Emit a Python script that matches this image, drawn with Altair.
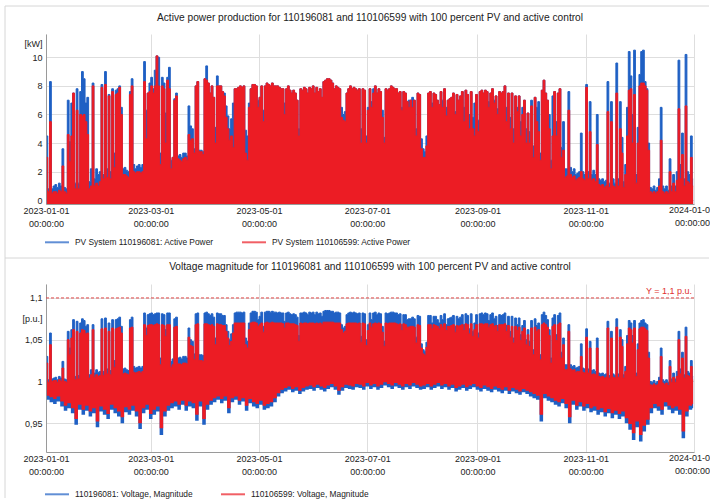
import altair as alt
import pandas as pd

# ---------------- data ----------------
# daily peak active power [kW], 2023-01-01 ... 2023-12-31
power_110196081 = [
    4.5, 0.8, 8.3, 0.8, 1.0, 1.1, 0.9, 1.2, 1.0, 3.6,
    0.9, 0.8, 7.0, 4.1, 6.8, 7.5, 1.2, 7.8, 1.2, 7.6,
    9.0, 8.5, 6.8, 7.2, 1.3, 2.2, 8.2, 1.5, 2.2, 1.8,
    2.0, 8.1, 1.8, 9.0, 2.2, 7.4, 2.0, 7.8, 3.3, 7.7,
    7.8, 8.0, 6.5, 2.2, 2.3, 2.1, 2.0, 7.6, 8.5, 2.5,
    2.2, 2.4, 2.5, 2.3, 2.5, 9.7, 6.3, 7.5, 8.2, 8.6,
    7.8, 9.1, 10.1, 10.0, 3.3, 8.6, 8.2, 6.1, 8.6, 9.3,
    2.8, 3.0, 7.1, 7.5, 3.1, 3.2, 3.0, 3.3, 3.3, 3.1,
    6.6, 5.2, 5.0, 3.6, 8.0, 8.3, 3.5, 3.5, 3.4, 8.5,
    9.4, 8.2, 7.5, 8.0, 7.2, 5.1, 8.7, 8.0, 8.0, 7.6,
    7.5, 6.6, 5.9, 5.0, 5.7, 6.8, 7.8, 7.8, 7.9, 8.0,
    7.9, 8.0, 4.9, 4.5, 6.8, 7.8, 8.1, 8.1, 8.0, 7.0,
    7.2, 8.0, 6.3, 8.0, 8.2, 8.1, 8.0, 8.2, 8.0, 8.0,
    8.0, 7.9, 7.8, 7.8, 6.8, 7.8, 8.0, 7.7, 7.5, 7.7,
    7.5, 7.0, 5.0, 7.8, 7.7, 7.9, 7.8, 7.5, 7.9, 7.8,
    8.0, 7.5, 7.9, 7.6, 7.8, 7.2, 8.3, 8.4, 8.5, 8.5,
    8.4, 8.2, 7.8, 8.0, 7.9, 7.8, 6.5, 6.0, 6.2, 7.5,
    7.8, 8.0, 7.8, 7.9, 7.8, 7.7, 7.8, 5.0, 7.8, 7.7,
    4.5, 6.5, 7.8, 6.9, 7.8, 8.0, 7.5, 7.8, 7.6, 6.3,
    4.4, 7.8, 7.7, 7.8, 8.0, 7.9, 7.8, 7.8, 7.5, 7.6,
    6.5, 7.6, 7.5, 6.9, 7.0, 7.0, 7.2, 7.0, 5.0, 7.5,
    7.4, 4.3, 3.6, 3.4, 4.5, 7.5, 7.6, 6.8, 7.5, 7.4,
    7.0, 6.7, 7.6, 7.0, 7.8, 6.5, 7.0, 7.1, 7.2, 7.5,
    6.2, 7.4, 7.0, 7.3, 7.6, 6.5, 7.7, 7.4, 6.0, 7.6,
    5.8, 6.8, 7.4, 5.6, 7.6, 7.7, 7.5, 7.7, 7.6, 6.9,
    7.5, 7.8, 7.0, 7.3, 6.4, 7.6, 7.5, 7.6, 8.0, 6.5,
    7.5, 5.8, 7.5, 5.0, 7.3, 6.5, 7.3, 5.5, 6.5, 7.0,
    5.0, 6.1, 4.8, 7.0, 3.8, 7.2, 6.5, 6.9, 3.3, 7.7,
    8.4, 7.5, 7.0, 6.0, 2.8, 7.3, 7.6, 5.5, 7.5, 7.8,
    3.7, 5.5, 2.2, 2.2, 7.6, 2.3, 2.0, 2.2, 1.8, 1.9,
    2.0, 4.7, 2.0, 1.8, 8.1, 2.0, 6.9, 1.8, 2.1, 1.8,
    6.0, 1.5, 1.4, 1.5, 1.3, 1.4, 8.3, 1.2, 6.9, 1.5,
    1.2, 9.6, 1.5, 6.9, 4.4, 1.3, 2.5, 6.5, 10.4, 8.7,
    6.0, 10.5, 1.8, 5.1, 8.8, 10.4, 10.5, 8.3, 7.8, 4.0,
    0.9, 0.8, 1.0, 0.7, 0.9, 1.5, 6.5, 1.0, 0.8, 1.0,
    0.7, 2.9, 1.0, 1.8, 1.0, 2.0, 9.8, 2.5, 4.7, 1.5,
    10.2, 2.0, 1.8, 4.5, 1.5,
]
power_110106599 = [
    3.0, 0.6, 5.5, 0.5, 0.6, 0.6, 0.5, 0.7, 0.6, 2.4,
    0.6, 0.5, 4.6, 2.7, 4.5, 7.5, 0.8, 6.3, 0.8, 6.0,
    5.9, 6.0, 5.5, 4.6, 0.8, 1.0, 8.0, 1.0, 1.2, 1.0,
    1.3, 7.9, 1.5, 8.1, 1.6, 7.3, 1.5, 7.6, 2.3, 7.4,
    7.5, 7.9, 6.0, 1.8, 1.8, 1.7, 1.6, 7.4, 8.0, 2.0,
    1.9, 2.0, 2.0, 1.9, 2.0, 8.3, 4.3, 7.5, 7.6, 8.0,
    7.5, 8.0, 10.1, 8.0, 2.5, 8.0, 7.8, 4.0, 8.4, 7.8,
    2.2, 3.0, 7.0, 7.3, 2.9, 2.8, 2.7, 2.9, 3.0, 2.8,
    4.6, 4.2, 4.3, 3.3, 8.0, 8.3, 3.4, 3.4, 3.2, 8.5,
    8.4, 8.2, 7.5, 8.0, 7.2, 4.0, 8.0, 8.0, 8.0, 7.6,
    7.3, 5.8, 5.0, 4.2, 4.5, 3.7, 7.8, 7.8, 7.9, 8.0,
    7.9, 8.0, 3.3, 2.8, 6.5, 7.8, 8.1, 8.1, 8.0, 6.5,
    7.2, 8.0, 5.5, 8.0, 8.2, 8.1, 8.0, 8.2, 8.0, 8.0,
    8.0, 7.9, 7.8, 7.8, 6.0, 7.8, 8.0, 7.7, 7.5, 7.7,
    7.5, 7.0, 4.5, 7.8, 7.7, 7.9, 7.8, 7.5, 7.9, 7.8,
    8.0, 7.5, 7.9, 7.6, 7.8, 7.2, 8.3, 8.4, 8.5, 8.5,
    8.4, 8.2, 7.8, 8.0, 7.9, 7.8, 5.8, 5.6, 5.5, 7.5,
    7.8, 8.0, 7.8, 7.9, 7.8, 7.7, 7.8, 4.0, 7.8, 7.7,
    4.0, 6.3, 7.8, 6.5, 7.5, 8.0, 7.5, 7.8, 7.6, 5.8,
    4.0, 7.8, 7.7, 7.8, 8.0, 7.9, 7.8, 7.8, 7.5, 7.6,
    6.3, 7.6, 7.5, 6.9, 6.5, 7.0, 6.5, 7.0, 4.5, 7.5,
    7.4, 3.6, 3.0, 3.0, 3.8, 7.5, 7.6, 6.5, 7.5, 7.4,
    7.0, 6.7, 7.6, 6.5, 7.8, 5.9, 7.0, 7.1, 7.2, 7.5,
    6.0, 7.4, 7.0, 7.3, 7.6, 5.5, 7.7, 7.4, 5.0, 7.6,
    5.0, 4.5, 7.4, 4.8, 7.6, 7.7, 7.5, 7.7, 7.6, 6.5,
    7.5, 7.8, 6.8, 7.3, 6.0, 7.6, 7.5, 7.6, 8.0, 5.5,
    7.5, 5.0, 7.5, 4.0, 7.3, 6.2, 7.3, 4.5, 6.0, 7.0,
    4.0, 6.1, 4.0, 6.6, 3.0, 7.2, 5.5, 4.8, 2.8, 7.7,
    8.4, 7.5, 7.0, 5.0, 2.2, 4.5, 7.6, 4.5, 7.5, 7.8,
    3.0, 3.5, 1.6, 1.7, 6.3, 1.8, 1.6, 1.7, 1.4, 1.5,
    1.6, 2.0, 1.5, 1.4, 7.9, 1.5, 4.8, 1.4, 1.5, 1.3,
    3.9, 1.1, 1.0, 1.1, 0.9, 1.0, 6.2, 0.9, 5.5, 1.0,
    0.9, 7.5, 1.0, 5.0, 3.3, 0.9, 1.8, 4.5, 7.7, 7.8,
    4.0, 7.4, 1.2, 4.0, 8.0, 8.2, 8.2, 8.0, 7.7, 3.5,
    0.6, 0.5, 0.6, 0.5, 0.6, 1.0, 4.2, 0.6, 0.5, 0.6,
    0.5, 2.0, 0.6, 1.2, 0.6, 1.4, 6.4, 1.5, 3.2, 1.0,
    6.6, 1.3, 1.2, 3.0, 1.0,
]
# daily maximum voltage magnitude [p.u.]
vmax_110196081 = [
    1.030, 1.002, 1.058, 1.003, 1.004, 1.005, 1.002, 1.006, 1.004, 1.024,
    1.003, 1.002, 1.060, 1.040, 1.062, 1.074, 1.006, 1.072, 1.007, 1.070,
    1.075, 1.073, 1.066, 1.068, 1.008, 1.014, 1.068, 1.010, 1.014, 1.011,
    1.012, 1.075, 1.012, 1.076, 1.015, 1.070, 1.013, 1.074, 1.025, 1.074,
    1.075, 1.077, 1.066, 1.015, 1.016, 1.014, 1.013, 1.074, 1.077, 1.018,
    1.016, 1.017, 1.018, 1.016, 1.018, 1.082, 1.064, 1.080, 1.081, 1.082,
    1.080, 1.081, 1.082, 1.082, 1.028, 1.081, 1.080, 1.062, 1.082, 1.082,
    1.024, 1.027, 1.075, 1.077, 1.028, 1.029, 1.027, 1.030, 1.030, 1.028,
    1.064, 1.050, 1.048, 1.033, 1.081, 1.082, 1.032, 1.032, 1.031, 1.082,
    1.083, 1.081, 1.079, 1.081, 1.077, 1.052, 1.082, 1.081, 1.081, 1.079,
    1.079, 1.068, 1.060, 1.050, 1.057, 1.068, 1.082, 1.083, 1.083, 1.083,
    1.082, 1.083, 1.052, 1.048, 1.070, 1.082, 1.084, 1.084, 1.083, 1.074,
    1.078, 1.083, 1.066, 1.083, 1.084, 1.084, 1.083, 1.084, 1.083, 1.083,
    1.082, 1.083, 1.082, 1.082, 1.072, 1.082, 1.083, 1.081, 1.080, 1.081,
    1.080, 1.077, 1.055, 1.082, 1.082, 1.083, 1.082, 1.080, 1.083, 1.082,
    1.083, 1.080, 1.083, 1.081, 1.082, 1.078, 1.084, 1.085, 1.085, 1.085,
    1.084, 1.084, 1.082, 1.083, 1.083, 1.082, 1.068, 1.064, 1.066, 1.080,
    1.082, 1.083, 1.082, 1.083, 1.082, 1.081, 1.082, 1.054, 1.082, 1.081,
    1.050, 1.068, 1.082, 1.074, 1.082, 1.083, 1.080, 1.082, 1.081, 1.066,
    1.048, 1.082, 1.081, 1.082, 1.083, 1.083, 1.082, 1.082, 1.080, 1.081,
    1.068, 1.080, 1.080, 1.074, 1.075, 1.075, 1.077, 1.075, 1.053, 1.079,
    1.078, 1.045, 1.038, 1.036, 1.047, 1.079, 1.079, 1.070, 1.078, 1.078,
    1.074, 1.070, 1.079, 1.074, 1.081, 1.068, 1.075, 1.076, 1.077, 1.079,
    1.066, 1.078, 1.075, 1.077, 1.080, 1.068, 1.081, 1.079, 1.063, 1.081,
    1.060, 1.070, 1.080, 1.058, 1.081, 1.082, 1.080, 1.082, 1.081, 1.073,
    1.080, 1.082, 1.075, 1.078, 1.067, 1.080, 1.079, 1.080, 1.082, 1.067,
    1.078, 1.060, 1.078, 1.052, 1.076, 1.068, 1.076, 1.056, 1.067, 1.073,
    1.050, 1.062, 1.048, 1.073, 1.038, 1.075, 1.067, 1.070, 1.032, 1.080,
    1.083, 1.079, 1.074, 1.062, 1.028, 1.076, 1.080, 1.056, 1.079, 1.082,
    1.035, 1.052, 1.020, 1.020, 1.068, 1.020, 1.018, 1.019, 1.016, 1.017,
    1.018, 1.045, 1.016, 1.015, 1.063, 1.015, 1.048, 1.013, 1.014, 1.012,
    1.052, 1.010, 1.009, 1.010, 1.008, 1.009, 1.072, 1.007, 1.060, 1.009,
    1.007, 1.075, 1.009, 1.062, 1.050, 1.008, 1.018, 1.055, 1.073, 1.070,
    1.055, 1.073, 1.010, 1.045, 1.070, 1.073, 1.074, 1.070, 1.068, 1.035,
    1.000, 0.999, 1.001, 0.998, 1.000, 1.005, 1.040, 1.002, 1.000, 1.002,
    0.999, 1.025, 1.003, 1.010, 1.003, 1.012, 1.060, 1.015, 1.035, 1.008,
    1.065, 1.012, 1.010, 1.025, 1.006,
]
vmax_110106599 = [
    1.022, 0.999, 1.044, 1.000, 1.001, 1.001, 0.999, 1.002, 1.000, 1.016,
    1.000, 0.999, 1.050, 1.032, 1.052, 1.062, 1.002, 1.060, 1.003, 1.058,
    1.062, 1.061, 1.057, 1.058, 1.004, 1.008, 1.062, 1.005, 1.008, 1.006,
    1.007, 1.063, 1.007, 1.064, 1.009, 1.060, 1.008, 1.064, 1.017, 1.063,
    1.064, 1.065, 1.058, 1.009, 1.010, 1.009, 1.008, 1.064, 1.065, 1.011,
    1.010, 1.011, 1.012, 1.010, 1.012, 1.068, 1.055, 1.067, 1.068, 1.068,
    1.067, 1.068, 1.069, 1.068, 1.020, 1.068, 1.067, 1.054, 1.068, 1.068,
    1.017, 1.020, 1.065, 1.066, 1.021, 1.021, 1.020, 1.022, 1.022, 1.021,
    1.053, 1.043, 1.042, 1.026, 1.068, 1.069, 1.025, 1.025, 1.024, 1.069,
    1.069, 1.068, 1.067, 1.068, 1.066, 1.044, 1.069, 1.068, 1.068, 1.067,
    1.067, 1.060, 1.052, 1.043, 1.048, 1.058, 1.070, 1.070, 1.070, 1.070,
    1.070, 1.070, 1.044, 1.040, 1.062, 1.070, 1.071, 1.071, 1.070, 1.066,
    1.068, 1.070, 1.059, 1.070, 1.071, 1.070, 1.070, 1.071, 1.070, 1.070,
    1.070, 1.070, 1.070, 1.069, 1.064, 1.070, 1.070, 1.069, 1.069, 1.069,
    1.068, 1.067, 1.048, 1.070, 1.069, 1.070, 1.070, 1.069, 1.070, 1.070,
    1.070, 1.069, 1.070, 1.069, 1.070, 1.068, 1.071, 1.071, 1.071, 1.071,
    1.071, 1.071, 1.070, 1.070, 1.070, 1.070, 1.062, 1.058, 1.060, 1.069,
    1.070, 1.070, 1.070, 1.070, 1.070, 1.069, 1.070, 1.047, 1.070, 1.069,
    1.043, 1.061, 1.070, 1.065, 1.069, 1.070, 1.069, 1.070, 1.069, 1.059,
    1.042, 1.070, 1.069, 1.070, 1.070, 1.070, 1.070, 1.069, 1.068, 1.069,
    1.061, 1.069, 1.068, 1.065, 1.065, 1.066, 1.066, 1.065, 1.046, 1.068,
    1.067, 1.040, 1.033, 1.031, 1.041, 1.068, 1.068, 1.063, 1.068, 1.067,
    1.066, 1.063, 1.068, 1.065, 1.069, 1.061, 1.066, 1.066, 1.067, 1.068,
    1.059, 1.067, 1.066, 1.067, 1.068, 1.061, 1.069, 1.068, 1.057, 1.069,
    1.054, 1.062, 1.068, 1.052, 1.069, 1.069, 1.068, 1.069, 1.069, 1.065,
    1.068, 1.069, 1.066, 1.067, 1.060, 1.068, 1.068, 1.068, 1.069, 1.060,
    1.067, 1.053, 1.066, 1.046, 1.066, 1.061, 1.065, 1.049, 1.060, 1.064,
    1.044, 1.056, 1.042, 1.064, 1.032, 1.065, 1.060, 1.062, 1.026, 1.068,
    1.070, 1.068, 1.065, 1.055, 1.022, 1.066, 1.068, 1.049, 1.068, 1.070,
    1.028, 1.044, 1.014, 1.014, 1.060, 1.015, 1.013, 1.014, 1.011, 1.012,
    1.012, 1.030, 1.011, 1.010, 1.053, 1.010, 1.040, 1.008, 1.009, 1.008,
    1.040, 1.006, 1.005, 1.006, 1.004, 1.005, 1.064, 1.004, 1.052, 1.005,
    1.004, 1.065, 1.005, 1.053, 1.042, 1.004, 1.012, 1.045, 1.064, 1.062,
    1.046, 1.064, 1.006, 1.038, 1.063, 1.065, 1.065, 1.063, 1.061, 1.028,
    0.996, 0.995, 0.997, 0.995, 0.996, 1.001, 1.030, 0.998, 0.996, 0.998,
    0.995, 1.018, 0.999, 1.005, 0.999, 1.006, 1.050, 1.009, 1.028, 1.004,
    1.054, 1.007, 1.006, 1.018, 1.002,
]
# two-day minimum voltage magnitude [p.u.] (183 two-day periods)
vmin_110196081 = [
    0.978, 0.975, 0.973, 0.976, 0.970, 0.965, 0.968, 0.962, 0.948, 0.966,
    0.960, 0.965, 0.958, 0.962, 0.945, 0.964, 0.960, 0.955, 0.966, 0.962,
    0.958, 0.950, 0.963, 0.960, 0.965, 0.958, 0.943, 0.962, 0.966, 0.955,
    0.960, 0.964, 0.936, 0.958, 0.965, 0.968, 0.970, 0.966, 0.972, 0.965,
    0.970, 0.968, 0.953, 0.970, 0.948, 0.966, 0.972, 0.975, 0.978, 0.974,
    0.977, 0.962, 0.975, 0.978, 0.972, 0.976, 0.965, 0.974, 0.970, 0.968,
    0.972, 0.966, 0.968, 0.970, 0.975, 0.982, 0.986, 0.988, 0.990, 0.987,
    0.989, 0.985, 0.988, 0.990, 0.991, 0.989, 0.992, 0.990, 0.988, 0.991,
    0.993, 0.990, 0.984, 0.989, 0.992, 0.991, 0.990, 0.993, 0.992, 0.990,
    0.994, 0.991, 0.993, 0.990, 0.992, 0.995, 0.993, 0.991, 0.994, 0.992,
    0.990, 0.993, 0.991, 0.994, 0.992, 0.990, 0.991, 0.993, 0.990, 0.992,
    0.994, 0.991, 0.993, 0.990, 0.992, 0.988, 0.990, 0.992, 0.989, 0.991,
    0.993, 0.990, 0.988, 0.991, 0.989, 0.987, 0.990, 0.988, 0.986, 0.989,
    0.985, 0.988, 0.986, 0.984, 0.987, 0.985, 0.982, 0.980, 0.978, 0.952,
    0.980, 0.977, 0.975, 0.972, 0.970, 0.974, 0.968, 0.950, 0.972, 0.966,
    0.970, 0.965, 0.968, 0.963, 0.965, 0.960, 0.963, 0.958, 0.962, 0.956,
    0.960, 0.955, 0.958, 0.950, 0.942, 0.930, 0.945, 0.928, 0.940, 0.948,
    0.962, 0.968, 0.965, 0.960, 0.970, 0.966, 0.962, 0.965, 0.960, 0.932,
    0.958, 0.966, 0.968,
]
vmin_110106599 = [
    0.983, 0.981, 0.979, 0.982, 0.976, 0.971, 0.974, 0.968, 0.955, 0.972,
    0.966, 0.971, 0.964, 0.968, 0.952, 0.970, 0.966, 0.961, 0.972, 0.968,
    0.964, 0.957, 0.969, 0.966, 0.971, 0.964, 0.950, 0.968, 0.972, 0.961,
    0.966, 0.970, 0.944, 0.964, 0.971, 0.974, 0.976, 0.972, 0.977, 0.971,
    0.976, 0.974, 0.960, 0.976, 0.955, 0.972, 0.977, 0.980, 0.982, 0.979,
    0.982, 0.968, 0.980, 0.982, 0.977, 0.980, 0.971, 0.979, 0.975, 0.973,
    0.977, 0.971, 0.973, 0.975, 0.980, 0.986, 0.990, 0.992, 0.994, 0.991,
    0.993, 0.989, 0.992, 0.994, 0.995, 0.993, 0.996, 0.994, 0.992, 0.995,
    0.997, 0.994, 0.989, 0.993, 0.996, 0.995, 0.994, 0.997, 0.996, 0.994,
    0.998, 0.995, 0.997, 0.994, 0.996, 0.999, 0.997, 0.995, 0.998, 0.996,
    0.994, 0.997, 0.995, 0.998, 0.996, 0.994, 0.995, 0.997, 0.994, 0.996,
    0.998, 0.995, 0.997, 0.994, 0.996, 0.992, 0.994, 0.996, 0.993, 0.995,
    0.997, 0.994, 0.992, 0.995, 0.993, 0.991, 0.994, 0.992, 0.990, 0.993,
    0.989, 0.992, 0.990, 0.988, 0.991, 0.989, 0.987, 0.985, 0.983, 0.960,
    0.985, 0.982, 0.980, 0.977, 0.975, 0.979, 0.973, 0.957, 0.977, 0.971,
    0.975, 0.970, 0.973, 0.968, 0.970, 0.966, 0.968, 0.963, 0.967, 0.962,
    0.965, 0.961, 0.964, 0.956, 0.949, 0.938, 0.952, 0.936, 0.947, 0.954,
    0.968, 0.973, 0.970, 0.966, 0.975, 0.971, 0.968, 0.970, 0.966, 0.940,
    0.964, 0.971, 0.973,
]
x_ticks = ["2023-01-01", "2023-03-01", "2023-05-01", "2023-07-01",
           "2023-09-01", "2023-11-01", "2024-01-01"]
title_power = "Active power production for 110196081 and 110106599 with 100 percent PV and active control"
title_volt = "Voltage magnitude for 110196081 and 110106599 with 100 percent PV and active control"
leg_power = ["PV System 110196081: Active Power", "PV System 110106599: Active Power"]
leg_volt = ["110196081: Voltage, Magnitude", "110106599: Voltage, Magnitude"]

# ---------------- tables ----------------
n = len(power_110196081)
days = list(pd.date_range("2023-01-01 12:00", periods=n, freq="D").strftime("%Y-%m-%dT%H:%M"))
power = pd.DataFrame({"t": days, "b": power_110196081, "r": power_110106599})
volt = pd.DataFrame({
    "t": days,
    "bmax": vmax_110196081, "rmax": vmax_110106599,
    "bmin": [vmin_110196081[i // 2] for i in range(n)],
    "rmin": [vmin_110106599[i // 2] for i in range(n)],
})

BLUE = "#1f60c4"
RED = "#ec1c24"
TXT = "#222222"
GRID = "#dedede"
AXIS = "#9a9a9a"
FRAME = "#d6d6d6"
FS = 9
LFS = 8.4
W, H1, H2 = 648, 170, 168

def dt(s):
    y, m, d = (int(v) for v in s.split("-"))
    return alt.DateTime(year=y, month=m, date=d)

x_axis = alt.Axis(
    values=[dt(s) for s in x_ticks],
    labelExpr="year(datum.value) > 2023 ? '' : [timeFormat(datum.value, '%Y-%m-%d'), '00:00:00']",
    labelFlush=False, labelOverlap=False, grid=True, gridColor=GRID,
    domainColor=AXIS, ticks=False, labelFontSize=FS, labelColor=TXT,
    labelPadding=2, labelLineHeight=13, title=None,
)
x_scale = alt.Scale(domain=[dt(x_ticks[0]), dt(x_ticks[-1])], nice=False)

def X(field="t"):
    return alt.X(f"{field}:T", scale=x_scale, axis=x_axis, title=None)

def series(name):
    return "'" + name + "'"

def legend(y):
    return alt.Legend(title=None, orient="none", legendX=-2, legendY=y, direction="horizontal",
                      symbolType="stroke", symbolStrokeWidth=2, symbolSize=576, symbolOpacity=0.7,
                      labelFontSize=LFS, labelColor=TXT, columnPadding=24, labelOffset=5)

# ---- power panel ----
p_dom = [-0.26, 11.63]
p_axis = alt.Axis(
    values=[0, 2, 4, 6, 8, 10, 11],
    labelExpr="datum.value == 11 ? '[kW]' : datum.label",
    grid=True, gridColor=GRID,
    gridOpacity={"condition": {"test": "datum.value == 11", "value": 0}, "value": 1},
    ticks=False, domainColor=AXIS, labelFontSize=FS, labelColor=TXT, labelPadding=4, title=None,
)
p_scale = alt.Scale(domain=p_dom, nice=False, zero=False)

def YP(field):
    return alt.Y(f"{field}:Q", scale=p_scale, axis=p_axis, title=None)

leg_top = legend(195)
cs_top = alt.Scale(domain=leg_power, range=[BLUE, RED])

def CP():
    return alt.Color("series:N", scale=cs_top, legend=leg_top)

base_p = alt.Chart(power)
frame_df = pd.DataFrame({"k": [0]})
frame_top = alt.layer(
    alt.Chart(frame_df).mark_rule(color=FRAME, strokeWidth=1).encode(
        x=alt.value(-41), x2=alt.value(663), y=alt.value(-28)),
    alt.Chart(frame_df).mark_rule(color=FRAME, strokeWidth=1).encode(
        x=alt.value(-41), y=alt.value(-28), y2=alt.value(224)),
    alt.Chart(frame_df).mark_rule(color=FRAME, strokeWidth=1).encode(
        x=alt.value(-41), x2=alt.value(663), y=alt.value(224)),
)
end_top = alt.Chart(pd.DataFrame({"t": ["2024-01-01T00:00"], "y": [p_dom[0]],
                                  "s": ["2024-01-0\n00:00:00"]})).mark_text(
    align="right", baseline="top", dx=16, dy=2, lineBreak="\n", lineHeight=13,
    fontSize=FS, color=TXT).encode(x=X(), y=YP("y"), text="s:N")

top = alt.layer(
    frame_top,
    base_p.mark_area(interpolate="step", color=BLUE).encode(x=X(), y=YP("b"), y2=alt.datum(p_dom[0])),
    base_p.mark_line(interpolate="step", strokeWidth=1).transform_calculate(
        series=series(leg_power[0])).encode(x=X(), y=YP("b"), color=CP()),
    base_p.mark_area(interpolate="step", color=RED).encode(x=X(), y=YP("r"), y2=alt.datum(p_dom[0])),
    base_p.mark_line(interpolate="step", strokeWidth=1).transform_calculate(
        series=series(leg_power[1])).encode(x=X(), y=YP("r"), color=CP()),
    end_top,
).properties(width=W, height=H1, title=alt.TitleParams(
    title_power, fontSize=10.2, fontWeight="normal", color=TXT, anchor="middle",
    frame="group", baseline="middle", offset=-23))

# ---- voltage panel ----
v_dom = [0.9155, 1.1167]
v_axis = alt.Axis(
    values=[0.95, 1.0, 1.05, 1.075, 1.1],
    labelExpr="datum.value > 1.07 && datum.value < 1.08 ? '[p.u.]' : replace(toString(datum.value), '.', ',')",
    grid=True, gridColor=GRID,
    gridOpacity={"condition": {"test": "datum.value > 1.07 && datum.value < 1.08", "value": 0}, "value": 1},
    ticks=False, domainColor=AXIS, labelFontSize=FS, labelColor=TXT, labelPadding=4, title=None,
)
v_scale = alt.Scale(domain=v_dom, nice=False, zero=False)

def YV(field):
    return alt.Y(f"{field}:Q", scale=v_scale, axis=v_axis, title=None)

leg_bot = legend(197)
cs_bot = alt.Scale(domain=leg_volt, range=[BLUE, RED])

def CV():
    return alt.Color("series:N", scale=cs_bot, legend=leg_bot)

base_v = alt.Chart(volt)
frame_bot = alt.Chart(frame_df).mark_rule(color=FRAME, strokeWidth=1).encode(
    x=alt.value(-41), y=alt.value(-26), y2=alt.value(214))
limit_df = pd.DataFrame({"t": ["2024-01-01T00:00"], "y": [1.1], "s": ["Y = 1,1 p.u."]})
limit_rule = alt.Chart(limit_df).mark_rule(color="#e04848", strokeDash=[3, 2], strokeWidth=1).encode(y=YV("y"))
limit_text = alt.Chart(limit_df).mark_text(align="right", baseline="bottom", dx=-2, dy=-2,
                                           fontSize=FS, color="#e03030").encode(x=X(), y=YV("y"), text="s:N")
end_bot = alt.Chart(pd.DataFrame({"t": ["2024-01-01T00:00"], "y": [v_dom[0]],
                                  "s": ["2024-01-0\n00:00:00"]})).mark_text(
    align="right", baseline="top", dx=16, dy=2, lineBreak="\n", lineHeight=13,
    fontSize=FS, color=TXT).encode(x=X(), y=YV("y"), text="s:N")

bottom = alt.layer(
    frame_bot,
    base_v.mark_area(interpolate="step", color=BLUE).encode(x=X(), y=YV("bmax"), y2=alt.Y2("bmin:Q")),
    base_v.mark_line(interpolate="step", strokeWidth=1).transform_calculate(
        series=series(leg_volt[0])).encode(x=X(), y=YV("bmax"), color=CV()),
    base_v.mark_area(interpolate="step", color=RED).encode(x=X(), y=YV("rmax"), y2=alt.Y2("rmin:Q")),
    base_v.mark_line(interpolate="step", strokeWidth=1).transform_calculate(
        series=series(leg_volt[1])).encode(x=X(), y=YV("rmax"), color=CV()),
    limit_rule,
    limit_text,
    end_bot,
).properties(width=W, height=H2, title=alt.TitleParams(
    title_volt, fontSize=10.2, fontWeight="normal", color=TXT, anchor="middle",
    frame="group", baseline="middle", offset=-20))

chart = alt.vconcat(top, bottom, spacing=80, bounds="flush").resolve_scale(
    color="independent").resolve_legend(color="independent").properties(
    padding={"left": 4, "top": 5, "right": 0, "bottom": 0}
).configure(font="Liberation Sans").configure_view(stroke=None)

chart.save("out.html", embed_options={"renderer": "svg", "actions": False})
